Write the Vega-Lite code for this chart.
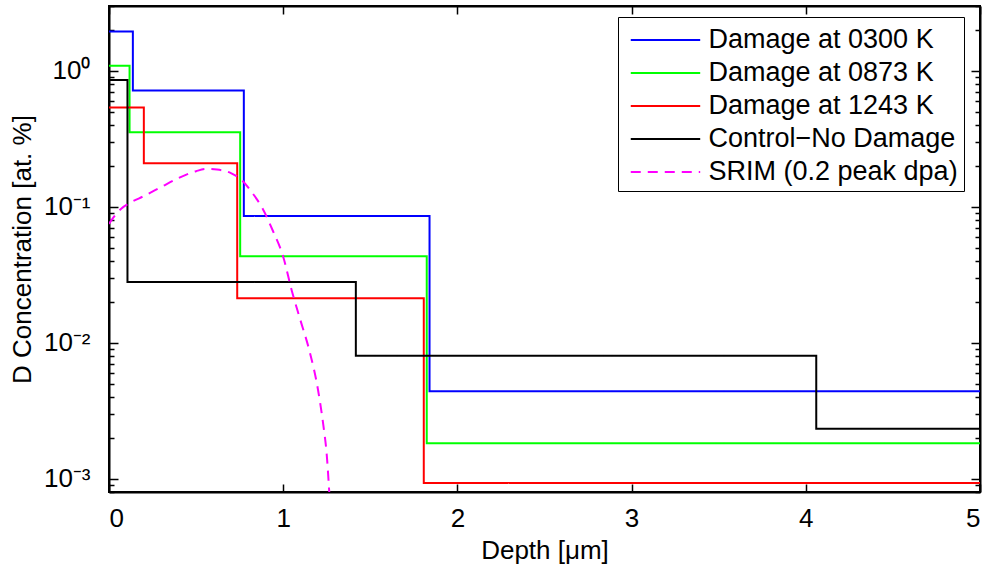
{
  "$schema": "https://vega.github.io/schema/vega-lite/v6.json",
  "width": 871,
  "height": 486,
  "autosize": {"type": "none"},
  "padding": {"left": 109, "top": 6, "right": 11, "bottom": 75},
  "background": "white",
  "view": {"stroke": "black", "strokeWidth": 2},
  "config": {
    "font": "Liberation Sans",
    "axis": {
      "domainColor": "black", "domainWidth": 2, "tickColor": "black", "tickWidth": 1.5,
      "labelColor": "black", "labelFont": "Liberation Sans", "labelFontSize": 26,
      "titleColor": "black", "titleFont": "Liberation Sans", "titleFontSize": 26, "titleFontWeight": "normal",
      "grid": false
    }
  },
  "datasets": {
    "steps": [
      {"series": "Damage at 0300 K", "depth": 0, "conc": 1.95},
      {"series": "Damage at 0300 K", "depth": 0.137, "conc": 0.716},
      {"series": "Damage at 0300 K", "depth": 0.774, "conc": 0.0857},
      {"series": "Damage at 0300 K", "depth": 1.84, "conc": 0.0044},
      {"series": "Damage at 0300 K", "depth": 5, "conc": 0.0044},
      {"series": "Damage at 0873 K", "depth": 0, "conc": 1.09},
      {"series": "Damage at 0873 K", "depth": 0.118, "conc": 0.354},
      {"series": "Damage at 0873 K", "depth": 0.753, "conc": 0.0433},
      {"series": "Damage at 0873 K", "depth": 1.824, "conc": 0.00183},
      {"series": "Damage at 0873 K", "depth": 5, "conc": 0.00183},
      {"series": "Damage at 1243 K", "depth": 0, "conc": 0.537},
      {"series": "Damage at 1243 K", "depth": 0.2, "conc": 0.209},
      {"series": "Damage at 1243 K", "depth": 0.736, "conc": 0.0213},
      {"series": "Damage at 1243 K", "depth": 1.807, "conc": 0.00093},
      {"series": "Damage at 1243 K", "depth": 5, "conc": 0.00093},
      {"series": "Control−No Damage", "depth": 0, "conc": 0.857},
      {"series": "Control−No Damage", "depth": 0.106, "conc": 0.028},
      {"series": "Control−No Damage", "depth": 1.417, "conc": 0.00805},
      {"series": "Control−No Damage", "depth": 4.06, "conc": 0.00233},
      {"series": "Control−No Damage", "depth": 5, "conc": 0.00233}
    ],
    "srim": [
      {"series": "SRIM (0.2 peak dpa)", "depth": 0, "conc": 0.075},
      {"series": "SRIM (0.2 peak dpa)", "depth": 0.03, "conc": 0.085},
      {"series": "SRIM (0.2 peak dpa)", "depth": 0.07, "conc": 0.097},
      {"series": "SRIM (0.2 peak dpa)", "depth": 0.12, "conc": 0.107},
      {"series": "SRIM (0.2 peak dpa)", "depth": 0.2, "conc": 0.12},
      {"series": "SRIM (0.2 peak dpa)", "depth": 0.3, "conc": 0.14},
      {"series": "SRIM (0.2 peak dpa)", "depth": 0.4, "conc": 0.163},
      {"series": "SRIM (0.2 peak dpa)", "depth": 0.5, "conc": 0.183},
      {"series": "SRIM (0.2 peak dpa)", "depth": 0.56, "conc": 0.19},
      {"series": "SRIM (0.2 peak dpa)", "depth": 0.62, "conc": 0.188},
      {"series": "SRIM (0.2 peak dpa)", "depth": 0.7, "conc": 0.177},
      {"series": "SRIM (0.2 peak dpa)", "depth": 0.76, "conc": 0.158},
      {"series": "SRIM (0.2 peak dpa)", "depth": 0.82, "conc": 0.128},
      {"series": "SRIM (0.2 peak dpa)", "depth": 0.88, "conc": 0.098},
      {"series": "SRIM (0.2 peak dpa)", "depth": 0.94, "conc": 0.067},
      {"series": "SRIM (0.2 peak dpa)", "depth": 1.0, "conc": 0.043},
      {"series": "SRIM (0.2 peak dpa)", "depth": 1.05, "conc": 0.024},
      {"series": "SRIM (0.2 peak dpa)", "depth": 1.1, "conc": 0.0145},
      {"series": "SRIM (0.2 peak dpa)", "depth": 1.15, "conc": 0.0088},
      {"series": "SRIM (0.2 peak dpa)", "depth": 1.2, "conc": 0.0045},
      {"series": "SRIM (0.2 peak dpa)", "depth": 1.23, "conc": 0.0025},
      {"series": "SRIM (0.2 peak dpa)", "depth": 1.25, "conc": 0.0015},
      {"series": "SRIM (0.2 peak dpa)", "depth": 1.27, "conc": 0.0006}
    ]
  },
  "layer": [
    {
      "data": {"name": "steps"},
      "mark": {"type": "line", "interpolate": "step-after", "strokeWidth": 2, "clip": true},
      "encoding": {
        "x": {"field": "depth", "type": "quantitative",
          "scale": {"domain": [0, 5], "nice": false, "zero": false},
          "axis": {"orient": "bottom", "title": "Depth [μm]", "values": [0, 1, 2, 3, 4, 5], "tickSize": -8, "labelPadding": 21, "titlePadding": 6}},
        "y": {"field": "conc", "type": "quantitative",
          "scale": {"type": "log", "domain": [0.0008, 3], "nice": false},
          "axis": {"orient": "left", "title": "D Concentration [at. %]",
            "values": [0.0008, 0.0009, 0.001, 0.002, 0.003, 0.004, 0.005, 0.006, 0.007, 0.008, 0.009, 0.01, 0.02, 0.03, 0.04, 0.05, 0.06, 0.07, 0.08, 0.09, 0.1, 0.2, 0.3, 0.4, 0.5, 0.6, 0.7, 0.8, 0.9, 1, 2, 3],
            "tickSize": {"condition": {"test": "abs(log(datum.value)/LN10 - round(log(datum.value)/LN10)) < 0.001", "value": -9}, "value": -5},
            "labelExpr": "abs(log(datum.value)/LN10 - round(log(datum.value)/LN10)) < 0.001 ? (datum.value == 1 ? '10⁰' : datum.value == 0.1 ? '10⁻¹' : datum.value == 0.01 ? '10⁻²' : '10⁻³') : ''",
            "labelPadding": 28, "titlePadding": 8}},
        "color": {"field": "series", "type": "nominal", "title": null,
          "scale": {"domain": ["Damage at 0300 K", "Damage at 0873 K", "Damage at 1243 K", "Control−No Damage", "SRIM (0.2 peak dpa)"],
            "range": ["#0000ff", "#00ff00", "#ff0000", "#000000", "#ff00ff"]}},
        "strokeDash": {"field": "series", "type": "nominal", "title": null,
          "scale": {"domain": ["Damage at 0300 K", "Damage at 0873 K", "Damage at 1243 K", "Control−No Damage", "SRIM (0.2 peak dpa)"],
            "range": [[1, 0], [1, 0], [1, 0], [1, 0], [10, 7]]}}
      }
    },
    {
      "data": {"name": "srim"},
      "mark": {"type": "line", "interpolate": "monotone", "strokeWidth": 2, "clip": true},
      "encoding": {
        "x": {"field": "depth", "type": "quantitative",
          "scale": {"domain": [0, 5], "nice": false, "zero": false},
          "axis": {"orient": "top", "title": null, "labels": false, "values": [0, 1, 2, 3, 4, 5], "tickSize": -8}},
        "y": {"field": "conc", "type": "quantitative",
          "scale": {"type": "log", "domain": [0.0008, 3], "nice": false},
          "axis": {"orient": "right", "title": null, "labels": false,
            "values": [0.0008, 0.0009, 0.001, 0.002, 0.003, 0.004, 0.005, 0.006, 0.007, 0.008, 0.009, 0.01, 0.02, 0.03, 0.04, 0.05, 0.06, 0.07, 0.08, 0.09, 0.1, 0.2, 0.3, 0.4, 0.5, 0.6, 0.7, 0.8, 0.9, 1, 2, 3],
            "tickSize": {"condition": {"test": "abs(log(datum.value)/LN10 - round(log(datum.value)/LN10)) < 0.001", "value": -9}, "value": -5}}},
        "color": {"field": "series", "type": "nominal", "title": null,
          "legend": {"orient": "none", "legendX": 509, "legendY": 11, "strokeColor": "black", "fillColor": "white",
            "padding": 6, "symbolType": "M-0.64,0H3.7", "symbolSize": 1024, "symbolStrokeWidth": 2,
            "labelFont": "Liberation Sans", "labelFontSize": 27, "labelColor": "black", "labelOffset": 50.5, "rowPadding": 3, "labelLimit": 400,
            "labelExpr": "datum.label + ' '"}},
        "strokeDash": {"field": "series", "type": "nominal", "title": null}
      }
    }
  ],
  "resolve": {"axis": {"x": "independent", "y": "independent"}}
}
